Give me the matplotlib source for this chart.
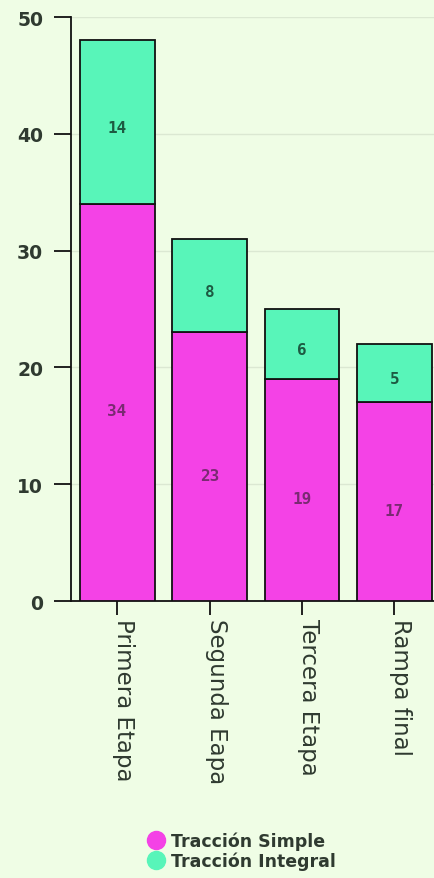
import matplotlib
matplotlib.use("Agg")
import matplotlib.pyplot as plt
from matplotlib.lines import Line2D

categories = ["Primera Etapa", "Segunda Eapa", "Tercera Etapa", "Rampa final"]
simple = [34, 23, 19, 17]
integral = [14, 8, 6, 5]
series_names = ["Tracción Simple", "Tracción Integral"]
yticks = [0, 10, 20, 30, 40, 50]

bg = "#effde5"
c_simple = "#f442e6"
c_integral = "#58f5b9"
txt = "#2f3a30"

fig = plt.figure(figsize=(4.35, 8.79), dpi=100, facecolor=bg)
ax = fig.add_axes([0.163, 0.3151, 0.837, 0.6644], facecolor=bg)

x = list(range(len(categories)))
w = 0.81
ax.bar(x, simple, width=w, color=c_simple, edgecolor="#111111", linewidth=1.3, zorder=3)
ax.bar(x, integral, width=w, bottom=simple, color=c_integral, edgecolor="#111111", linewidth=1.3, zorder=3)

for xi, s, g in zip(x, simple, integral):
    ax.annotate(str(s), (xi, s / 2), xytext=(0, -6), textcoords="offset points",
                ha="center", va="center", fontsize=11.5, color="#7a2a72",
                family="DejaVu Sans Mono", fontweight="bold", zorder=4)
    ax.annotate(str(g), (xi, s + g / 2), xytext=(0, -4), textcoords="offset points",
                ha="center", va="center", fontsize=11.5, color="#1d5a42",
                family="DejaVu Sans Mono", fontweight="bold", zorder=4)

ax.set_xlim(-0.5, 3.44)
ax.set_ylim(0, 50)
ax.set_yticks(yticks)
ax.set_yticklabels([str(t) for t in yticks], fontsize=13.5, fontweight="bold", color=txt,
                   family="DejaVu Sans")
ax.set_xticks(x)
ax.set_xticklabels(categories, rotation=-90, fontsize=16.5, color=txt, family="DejaVu Sans",
                   ha="left", va="baseline", rotation_mode="anchor")
ax.tick_params(axis="y", length=12, width=1.3, color="#111111", pad=8)
ax.tick_params(axis="x", length=10, width=1.3, color="#111111", pad=2)

ax.grid(axis="y", color="#dbe8d2", linewidth=1, zorder=0)
for s in ["top", "right"]:
    ax.spines[s].set_visible(False)
for s in ["left", "bottom"]:
    ax.spines[s].set_linewidth(1.3)
    ax.spines[s].set_color("#111111")

handles = [Line2D([0], [0], marker="o", linestyle="", markersize=13, markerfacecolor=c, markeredgecolor=c)
           for c in (c_simple, c_integral)]
leg = fig.legend(handles, series_names, loc="center", bbox_to_anchor=(0.555, 0.031), frameon=False,
                 prop={"family": "DejaVu Sans", "size": 12.5, "weight": "bold"}, labelspacing=0.1,
                 handletextpad=0.35, handlelength=1.0, borderaxespad=0)
for t in leg.get_texts():
    t.set_color(txt)

fig.savefig("out.png", dpi=100, facecolor=bg)
